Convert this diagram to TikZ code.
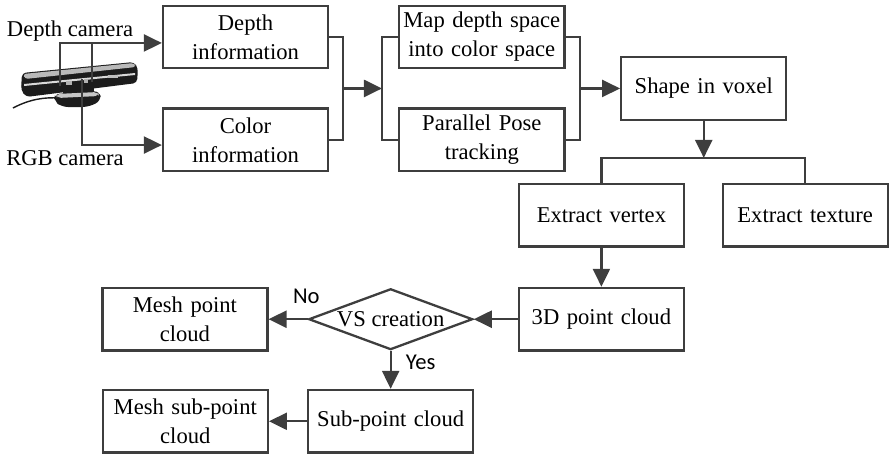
\documentclass[tikz,border=0pt]{standalone}
\usepackage{fontspec}
\setmainfont{Liberation Serif}
\newfontfamily\answerfont{Carlito}
\usepackage{xcolor}
\usetikzlibrary{arrows.meta, positioning, calc, shapes.geometric}

\definecolor{flowline}{RGB}{62,62,62}
\definecolor{kinectbody}{RGB}{28,28,28}

\begin{document}
\begin{tikzpicture}[
    font=\fontsize{11.3}{14.5}\selectfont,
    box/.style={rectangle, draw=flowline, line width=1.15pt, align=center,
      text width=28mm, inner sep=0.3mm, minimum width=29mm, minimum height=11mm},
    decide/.style={diamond, draw=flowline, line width=1.15pt, aspect=2.6,
      inner sep=0pt, minimum width=28.8mm, minimum height=10.7mm},
    flow/.style={-{Triangle[length=9pt, width=8.5pt]}, line width=1.15pt, draw=flowline},
    link/.style={line width=1.15pt, draw=flowline},
    answer/.style={font=\answerfont\fontsize{11.3}{13}\selectfont}
  ]
  \useasboundingbox (0,0) rectangle (156.21mm,-80.30mm);
  % sensor, drawn in pixel units
  \begin{scope}[x=0.5pt, y=-0.5pt]
    \draw[kinectbody, line width=0.7pt] (13,108) .. controls (30,99) and (45,97) .. (60,98);
    \fill[kinectbody] (63,86) rectangle (94,96);
    \fill[kinectbody, rounded corners=3pt] (54,94) -- (100,91) -- (101,101) -- (88,107)
      -- (62,107) -- (54,101) -- cycle;
    \fill[gray!45, rounded corners=2pt] (56,94) -- (98,92) -- (99,96) -- (57,98) -- cycle;
    \fill[kinectbody, rounded corners=2pt] (22,73) -- (134,62) -- (138,68) -- (137,83)
      -- (26,97) -- (21,90) -- cycle;
    \fill[gray!55, rounded corners=1.5pt] (23,74) -- (134,63) -- (136,67) -- (25,79) -- cycle;
    \fill[gray!30] (24,84) -- (135,73) -- (135,75) -- (24,86) -- cycle;
    \fill[gray!60] (66,81) rectangle (72,85);
    \fill[gray!60] (84,79) rectangle (88,83);
    \fill[gray!50] (108,75) rectangle (118,78);
    \coordinate (irL) at (60,86);
    \coordinate (irR) at (92,82);
    \coordinate (rgb) at (82,79);
    \node[anchor=base] (dcam) at (70,37) {Depth camera};
    \node[anchor=base] (rcam) at (65,165) {RGB camera};
  \end{scope}

  \node[box] (dep) at (43.14mm,-6.50mm) {Depth\\information};
  \node[box, below=6.68mm of dep] (col) {Color\\information};
  \node[box, right=12.12mm of dep] (map) {Map depth space\\into color space};
  \node[box, right=12.12mm of col] (pose) {Parallel Pose\\tracking};

  \coordinate (j1) at ($(dep.east)!0.5!(col.east)+(2.43mm,0)$);
  \coordinate (j2) at ($(map.west)!0.5!(pose.west)-(2.84mm,0)$);
  \coordinate (j3) at ($(map.east)!0.5!(pose.east)+(2.56mm,0)$);

  \node[box, right=7.03mm of j3] (shape) {Shape in voxel};
  \coordinate[below=6.5mm of shape] (j4);
  \node[box, below left=4.39mm and 3.28mm of j4] (vert) {Extract vertex};
  \node[box, right=6.4mm of vert] (tex) {Extract texture};
  \node[box, below=6.85mm of vert] (cloud) {3D point cloud};
  \node[decide, left=7.73mm of cloud] (vs) {VS creation};
  \node[box, left=6.85mm of vs] (mesh) {Mesh point\\cloud};
  \node[box, below=6.68mm of vs] (sub) {Sub-point cloud};
  \node[box, left=6.68mm of sub] (meshsub) {Mesh sub-point\\cloud};

  % camera outputs
  \coordinate (dIn) at ([yshift=-1.05mm]dep.west);
  \draw[flow] (irL) |- (dIn);
  \draw[link] (irR) -- (irR |- dIn);
  \draw[flow] (rgb) |- ([yshift=-0.9mm]col.west);

  % merge and split
  \draw[link] (dep.east) -| (j1) |- (col.east);
  \draw[flow] (j1) -- (j2);
  \draw[link] (map.west) -| (j2) |- (pose.west);
  \draw[link] (map.east) -| (j3) |- (pose.east);
  \draw[flow] (j3) -- (shape.west);
  \draw[flow] (shape) -- (j4);
  \draw[link] (vert.north) |- (j4) -| (tex.north);

  \draw[flow] (vert) -- (cloud);
  \draw[flow] (cloud.west) -- (vs.east);
  \draw[flow] (vs.west) -- node[answer, pos=0.03, above=1.4mm]{No} (mesh.east);
  \draw[flow] (vs.south) -- node[answer, pos=0.3, right=1.3mm]{Yes} (sub.north);
  \draw[flow] (sub) -- (meshsub);
\end{tikzpicture}
\end{document}
